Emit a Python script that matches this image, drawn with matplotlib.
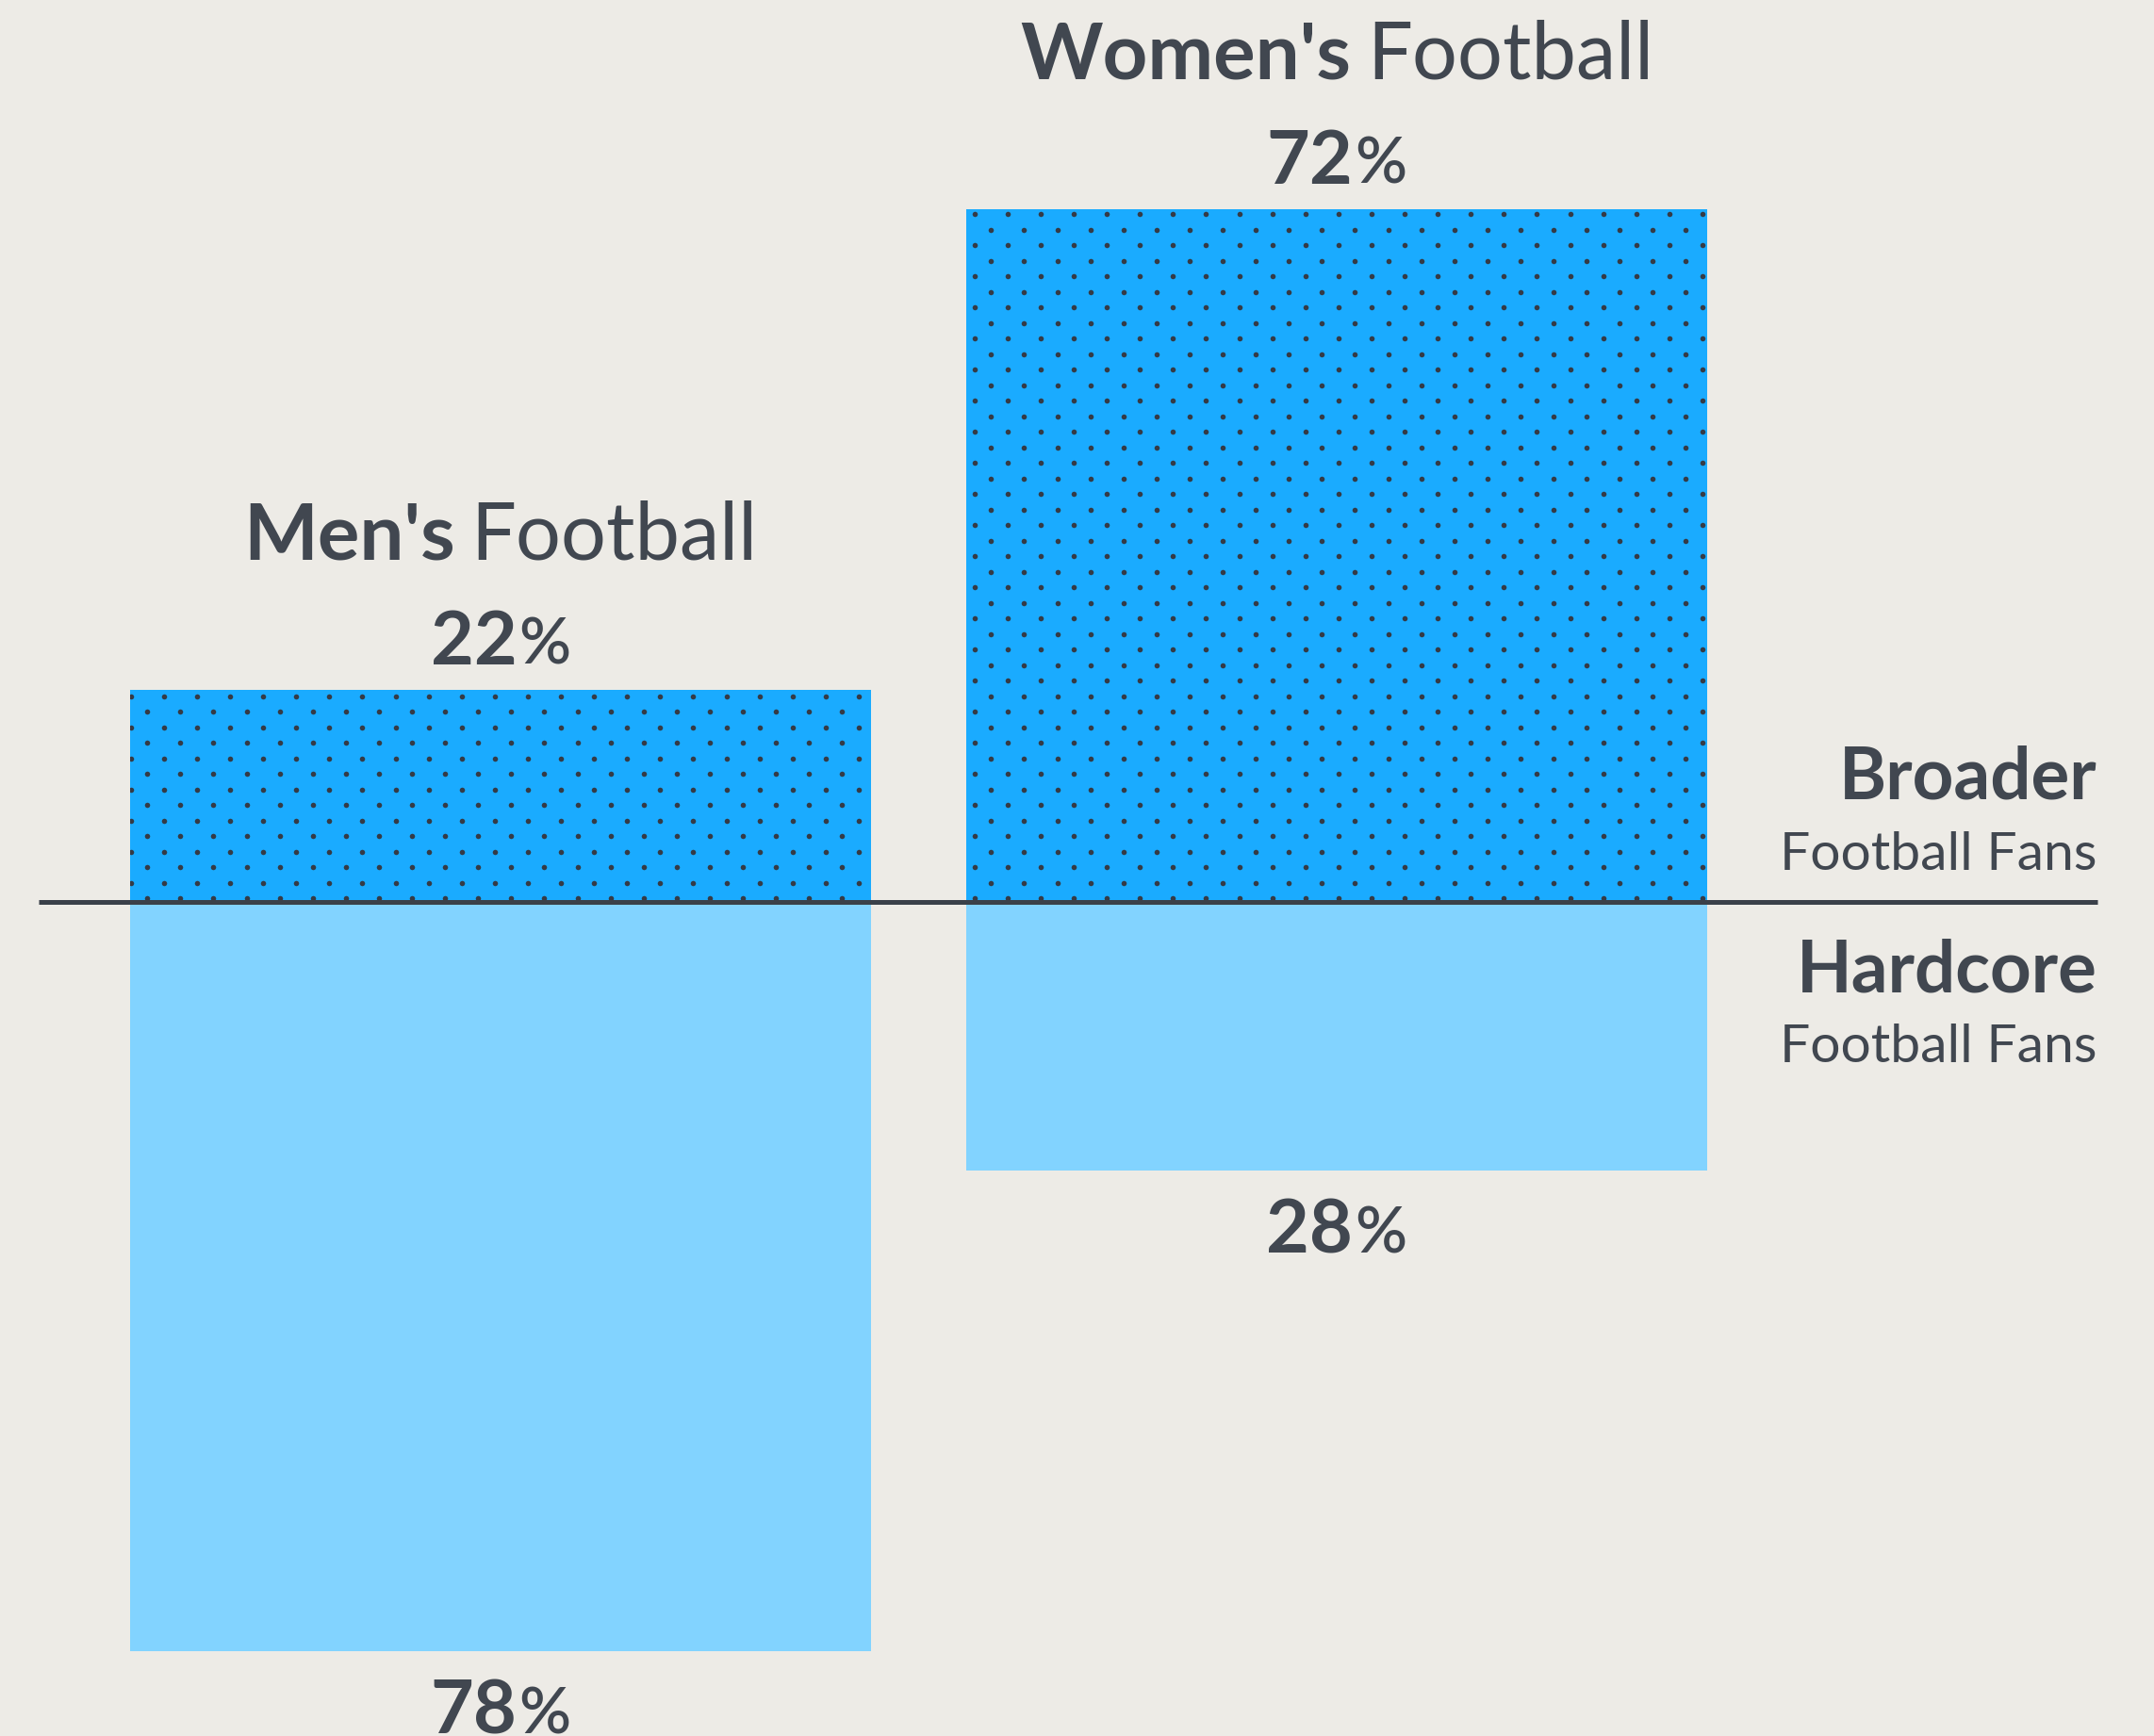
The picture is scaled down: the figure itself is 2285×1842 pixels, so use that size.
import numpy as np
import matplotlib.pyplot as plt
from matplotlib.transforms import ScaledTranslation

plt.rcParams['font.family'] = ['Lato', 'DejaVu Sans']

# Data (percent of fans)
sports   = ["Men's", "Women's"]
broader  = [22, 72]
hardcore = [78, 28]

# Colours
bg    = '#edebe6'
ink   = '#414750'
c_top = '#1aabff'
c_bot = '#82d3ff'
c_dot = '#353b46'

DPI = 100
fig = plt.figure(figsize=(22.85, 18.42), dpi=DPI, facecolor=bg)
ax = fig.add_axes([0, 0, 1, 1])
ax.set_facecolor(bg)
ax.set_xlim(-0.5986, 1.9775)
ax.set_ylim(-86.8, 93.8)
ax.axis('off')

x = np.arange(len(sports))
w = 0.886
top_bars = ax.bar(x, broader, width=w, color=c_top, linewidth=0, zorder=2)
bot_bars = ax.bar(x, [-v for v in hardcore], width=w, color=c_bot, linewidth=0, zorder=2)

# dotted texture on the "broader" bars
dx = 35.1 / 887
dy = 16.5 / 10.2
gx, gy = [], []
for k in range(60):
    xs = np.arange(-0.4224 - (k % 2) * dx / 2 - dx, 2.0, dx)
    gx.extend(xs)
    gy.extend([0.325 + k * dy] * len(xs))
gx = np.array(gx)
gy = np.array(gy)
for b in top_bars:
    sc = ax.scatter(gx, gy, s=16, color=c_dot, linewidths=0, zorder=3)
    sc.set_clip_path(b)

# baseline
ax.plot([-0.5524, 1.9098], [0, 0], color='#3a4049', lw=3.6,
        solid_capstyle='butt', zorder=4)

renderer = fig.canvas.get_renderer()


def pair(xc, y, a, b, kw_a, kw_b, gap):
    t1 = ax.text(xc, y, a, color=ink, ha='left', va='baseline', **kw_a)
    t2 = ax.text(xc, y, b, color=ink, ha='left', va='baseline', **kw_b)
    w1 = t1.get_window_extent(renderer).width
    w2 = t2.get_window_extent(renderer).width
    total = w1 + gap + w2
    t1.set_transform(ax.transData + ScaledTranslation(-total / 2 / DPI, 0, fig.dpi_scale_trans))
    t2.set_transform(ax.transData + ScaledTranslation((-total / 2 + w1 + gap) / DPI, 0, fig.dpi_scale_trans))


for i in range(len(sports)):
    pair(x[i], broader[i] + 13.6, sports[i], "Football",
         dict(fontsize=60, fontweight='bold'), dict(fontsize=61, fontweight='normal'), 17)
    pair(x[i], broader[i] + 2.7, str(broader[i]), "%",
         dict(fontsize=57, fontweight='bold'), dict(fontsize=49, fontweight='semibold'), 2)
    pair(x[i], -hardcore[i] - 8.6, str(hardcore[i]), "%",
         dict(fontsize=57, fontweight='bold'), dict(fontsize=49, fontweight='semibold'), 2)

# side labels
xr = 1.9098
ax.text(xr, 10.7, "Broader", ha='right', va='baseline', color=ink, fontsize=55, fontweight='bold')
ax.text(xr, 3.3, "Football Fans", ha='right', va='baseline', color=ink, fontsize=41)
ax.text(xr, -9.4, "Hardcore", ha='right', va='baseline', color=ink, fontsize=55, fontweight='bold')
ax.text(xr, -16.7, "Football Fans", ha='right', va='baseline', color=ink, fontsize=41)

fig.savefig('out.png', dpi=DPI, facecolor=bg)
